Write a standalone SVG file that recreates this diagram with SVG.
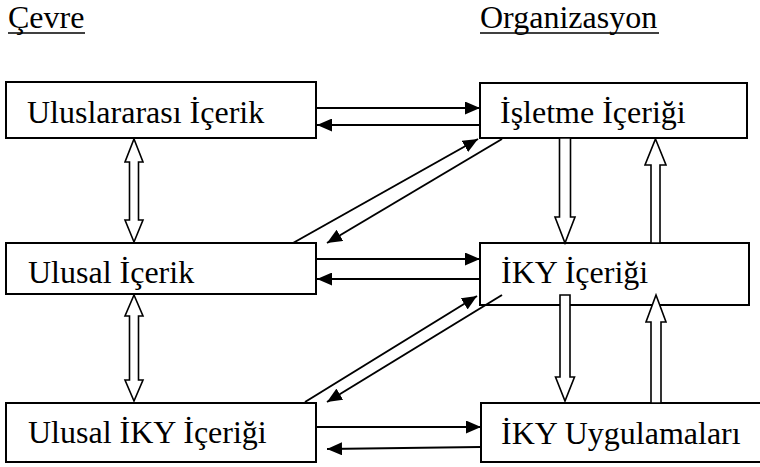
<svg xmlns="http://www.w3.org/2000/svg" width="760" height="467" viewBox="0 0 760 467">
  <style>
    .lbl { font-family: "Liberation Serif", "Times New Roman", serif; font-size: 32px; fill: #000; }
    .box { fill: #fff; stroke: #000; stroke-width: 2; }
    .line { stroke: #000; stroke-width: 2; fill: none; }
    .hollow { fill: #fff; stroke: #000; stroke-width: 1.6; stroke-linejoin: miter; }
  </style>
  <defs>
    <marker id="head" markerUnits="userSpaceOnUse" markerWidth="15" markerHeight="13" refX="15" refY="6.5" orient="auto">
      <path d="M0,0 L15,6.5 L0,13 Z" fill="#000"/>
    </marker>
  </defs>

  <!-- column headings -->
  <g id="heading-cevre">
    <text class="lbl" x="8" y="28">Çevre</text>
    <line x1="8" y1="33" x2="85" y2="33" stroke="#000" stroke-width="1.6"/>
  </g>
  <g id="heading-organizasyon">
    <text class="lbl" x="480" y="28">Organizasyon</text>
    <line x1="480" y1="33" x2="659" y2="33" stroke="#000" stroke-width="1.6"/>
  </g>

  <!-- environment column -->
  <g id="uluslararasi-icerik">
    <rect class="box" x="6" y="82" width="310" height="56"/>
    <text class="lbl" x="27" y="123">Uluslararası İçerik</text>
  </g>
  <g id="ulusal-icerik">
    <rect class="box" x="6" y="243" width="310" height="51"/>
    <text class="lbl" x="28" y="283">Ulusal İçerik</text>
  </g>
  <g id="ulusal-iky-icerigi">
    <rect class="box" x="6" y="403" width="310" height="59"/>
    <text class="lbl" x="28" y="443">Ulusal İKY İçeriği</text>
  </g>

  <!-- organisation column -->
  <g id="isletme-icerigi">
    <rect class="box" x="480" y="83" width="267" height="55"/>
    <text class="lbl" x="500" y="123">İşletme İçeriği</text>
  </g>
  <g id="iky-icerigi">
    <rect class="box" x="480" y="243" width="269" height="62"/>
    <text class="lbl" x="501" y="283">İKY İçeriği</text>
  </g>
  <g id="iky-uygulamalari">
    <rect class="box" x="481" y="403" width="292" height="59"/>
    <text class="lbl" x="501" y="444">İKY Uygulamaları</text>
  </g>

  <!-- connectors -->
  <g id="connectors">
    <!-- horizontal pairs -->
    <line class="line" x1="316" y1="108" x2="480" y2="108" marker-end="url(#head)"/>
    <line class="line" x1="480" y1="125" x2="317" y2="125" marker-end="url(#head)"/>
    <line class="line" x1="316" y1="259" x2="480" y2="259" marker-end="url(#head)"/>
    <line class="line" x1="480" y1="279" x2="317" y2="279" marker-end="url(#head)"/>
    <line class="line" x1="316" y1="427" x2="481" y2="427" marker-end="url(#head)"/>
    <line class="line" x1="480" y1="447" x2="327" y2="449" marker-end="url(#head)"/>

    <!-- diagonal pairs -->
    <line class="line" x1="293" y1="243" x2="478" y2="139" marker-end="url(#head)"/>
    <line class="line" x1="502" y1="139" x2="327" y2="243" marker-end="url(#head)"/>
    <line class="line" x1="305" y1="402" x2="477" y2="296" marker-end="url(#head)"/>
    <line class="line" x1="502" y1="295" x2="327" y2="402" marker-end="url(#head)"/>

    <!-- hollow double arrows, environment column -->
    <path class="hollow" d="M134,139 L143,162 L138.5,162 L138.5,220 L143,220 L134,242 L125,220 L129.5,220 L129.5,162 L125,162 Z"/>
    <path class="hollow" d="M134,295 L143,316 L138.5,316 L138.5,380 L143,380 L134,401 L125,380 L129.5,380 L129.5,316 L125,316 Z"/>

    <!-- hollow block arrows, organisation column -->
    <path class="hollow" d="M559.5,138 L570.5,138 L570.5,217 L575,217 L565,243 L555,217 L559.5,217 Z"/>
    <path class="hollow" d="M655.5,139 L666,165 L660,165 L660,243 L651,243 L651,165 L645,165 Z"/>
    <path class="hollow" d="M560,295 L570,295 L570,377 L574.5,377 L565,401 L555.5,377 L560,377 Z"/>
    <path class="hollow" d="M656,295 L666,322 L661,322 L661,403 L651,403 L651,322 L646,322 Z"/>
  </g>
</svg>
